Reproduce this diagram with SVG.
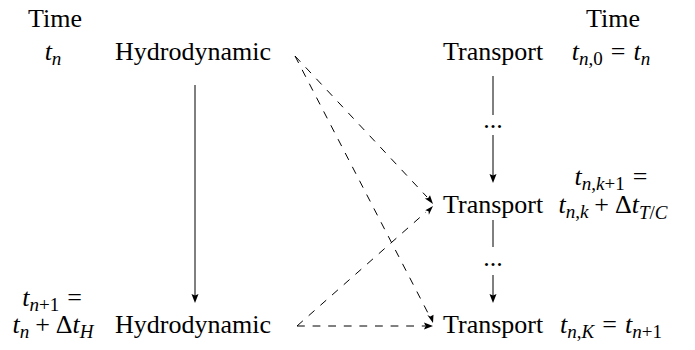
<svg xmlns="http://www.w3.org/2000/svg" width="695" height="350" viewBox="0 0 695 350" font-family="Liberation Serif, serif">
<rect width="695" height="350" fill="#fff"/>
<g id="time-left"><text font-family="Liberation Serif" font-size="26" x="55" y="27" text-anchor="middle">Time</text></g>
<g id="tn"><text font-family="Liberation Serif" font-size="26" x="53" y="60" text-anchor="middle"><tspan font-style="italic">t</tspan><tspan font-size="19" font-style="italic" dy="5">n</tspan></text></g>
<g id="hydro-top"><text font-family="Liberation Serif" font-size="26" x="115" y="60">Hydrodynamic</text></g>
<g id="tn1"><text font-family="Liberation Serif" font-size="26" x="52" y="306" text-anchor="middle"><tspan font-style="italic">t</tspan><tspan font-size="19" dy="5"><tspan font-style="italic">n</tspan>+1</tspan><tspan dy="-5" dx="8">=</tspan></text></g>
<g id="tnH"><text font-family="Liberation Serif" font-size="26" x="53" y="333" text-anchor="middle"><tspan font-style="italic">t</tspan><tspan font-size="19" font-style="italic" dy="5">n</tspan><tspan dy="-5" dx="6">+</tspan><tspan dx="6">&#916;</tspan><tspan font-style="italic">t</tspan><tspan font-size="19" font-style="italic" dy="5">H</tspan></text></g>
<g id="hydro-bottom"><text font-family="Liberation Serif" font-size="26" x="115" y="333">Hydrodynamic</text></g>
<g id="time-right"><text font-family="Liberation Serif" font-size="26" x="613" y="27" text-anchor="middle">Time</text></g>
<g id="transport-0"><text font-family="Liberation Serif" font-size="26" x="443" y="60">Transport</text></g>
<g id="tn0"><text font-family="Liberation Serif" font-size="26" x="611" y="60" text-anchor="middle"><tspan font-style="italic">t</tspan><tspan font-size="19" dy="5"><tspan font-style="italic">n</tspan>,0</tspan><tspan dy="-5" dx="8">=</tspan><tspan dx="8" font-style="italic">t</tspan><tspan font-size="19" font-style="italic" dy="5">n</tspan></text></g>
<g id="dots-1"><text font-family="Liberation Serif" font-size="26" x="493" y="128" text-anchor="middle">...</text></g>
<g id="tnk1"><text font-family="Liberation Serif" font-size="26" x="611" y="185" text-anchor="middle"><tspan font-style="italic">t</tspan><tspan font-size="19" dy="5"><tspan font-style="italic">n</tspan>,<tspan font-style="italic">k</tspan>+1</tspan><tspan dy="-5" dx="8">=</tspan></text></g>
<g id="transport-k"><text font-family="Liberation Serif" font-size="26" x="443" y="213">Transport</text></g>
<g id="tnk"><text font-family="Liberation Serif" font-size="26" x="613" y="213" text-anchor="middle"><tspan font-style="italic">t</tspan><tspan font-size="19" dy="5"><tspan font-style="italic">n</tspan>,<tspan font-style="italic">k</tspan></tspan><tspan dy="-5" dx="6">+</tspan><tspan dx="6">&#916;</tspan><tspan font-style="italic">t</tspan><tspan font-size="19" dy="6"><tspan font-style="italic">T</tspan>/<tspan font-style="italic">C</tspan></tspan></text></g>
<g id="dots-2"><text font-family="Liberation Serif" font-size="26" x="493" y="266" text-anchor="middle">...</text></g>
<g id="transport-K"><text font-family="Liberation Serif" font-size="26" x="443" y="333">Transport</text></g>
<g id="tnK"><text font-family="Liberation Serif" font-size="26" x="611" y="333" text-anchor="middle"><tspan font-style="italic">t</tspan><tspan font-size="19" dy="5"><tspan font-style="italic">n</tspan>,<tspan font-style="italic">K</tspan></tspan><tspan dy="-5" dx="8">=</tspan><tspan dx="8" font-style="italic">t</tspan><tspan font-size="19" dy="5"><tspan font-style="italic">n</tspan>+1</tspan></text></g>
<g id="connectors" stroke="#000" stroke-width="1" fill="none">
<g id="solid">
<line x1="195" y1="85" x2="195" y2="296"/>
<line x1="493" y1="76" x2="493" y2="115"/>
<line x1="493" y1="135" x2="493" y2="176"/>
<line x1="493" y1="220" x2="493" y2="247"/>
<line x1="493" y1="275" x2="493" y2="296"/>
</g>
<g id="dashed" stroke-dasharray="7.8 7.8">
<line x1="295" y1="56" x2="427" y2="197"/>
<line x1="295" y1="56" x2="429" y2="315"/>
<line x1="297" y1="326" x2="426" y2="212"/>
<line x1="297" y1="326" x2="425" y2="326"/>
</g>
<g id="heads" fill="#000" stroke="none">
<path d="M195,303 L191.5,294 L195,295.5 L198.5,294 z"/>
<path d="M493,183 L489.5,174 L493,175.5 L496.5,174 z"/>
<path d="M493,303 L489.5,294 L493,295.5 L496.5,294 z"/>
<path d="M433,204 L424.9,198.6 L428.2,198.1 L430,195.2 z"/>
<path d="M433,323 L427.3,315.1 L430.3,316.6 L433.5,314.8 z"/>
<path d="M433,206 L428.9,214.7 L428.5,211.3 L425.3,210.2 z"/>
<path d="M433,326 L424,322.5 L425.5,326 L424,329.5 z"/>
</g>
</g>
</svg>
